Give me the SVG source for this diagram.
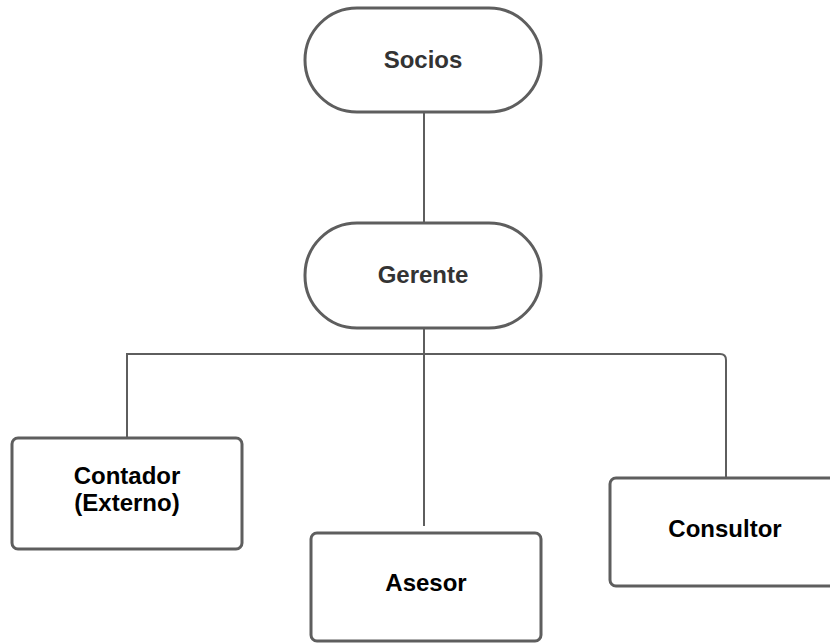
<svg xmlns="http://www.w3.org/2000/svg" width="830" height="643" viewBox="0 0 830 643">
<style>
.shape{fill:#fff;stroke:#5e5e5e;stroke-width:3}
.conn{fill:none;stroke:#5e5e5e;stroke-width:2}
.t{font-family:"Liberation Sans",Arial,sans-serif;font-weight:bold;font-size:24px;text-anchor:middle}
.g{fill:#333}
.k{fill:#000}
</style>
<rect width="830" height="643" fill="#fff"/>
<g id="connectors">
<path class="conn" d="M424 112 V222"/>
<path class="conn" d="M424 328 V526"/>
<path class="conn" d="M127 438 V354 H720 Q726 354 726 360 V477"/>
</g>
<g id="socios">
<rect class="shape" x="305" y="8" width="236" height="104" rx="52"/>
<text class="t g" x="423" y="68">Socios</text>
</g>
<g id="gerente">
<rect class="shape" x="305" y="223" width="236" height="105" rx="52"/>
<text class="t g" x="423" y="283">Gerente</text>
</g>
<g id="contador">
<rect class="shape" x="12" y="438" width="230" height="111" rx="6"/>
<text class="t k" x="127" y="484">Contador</text>
<text class="t k" x="127" y="511">(Externo)</text>
</g>
<g id="asesor">
<rect class="shape" x="311" y="533" width="230" height="108" rx="6"/>
<text class="t k" x="426" y="591">Asesor</text>
</g>
<g id="consultor">
<rect class="shape" x="610" y="478" width="232" height="108" rx="6"/>
<text class="t k" x="725" y="537">Consultor</text>
</g>
</svg>
